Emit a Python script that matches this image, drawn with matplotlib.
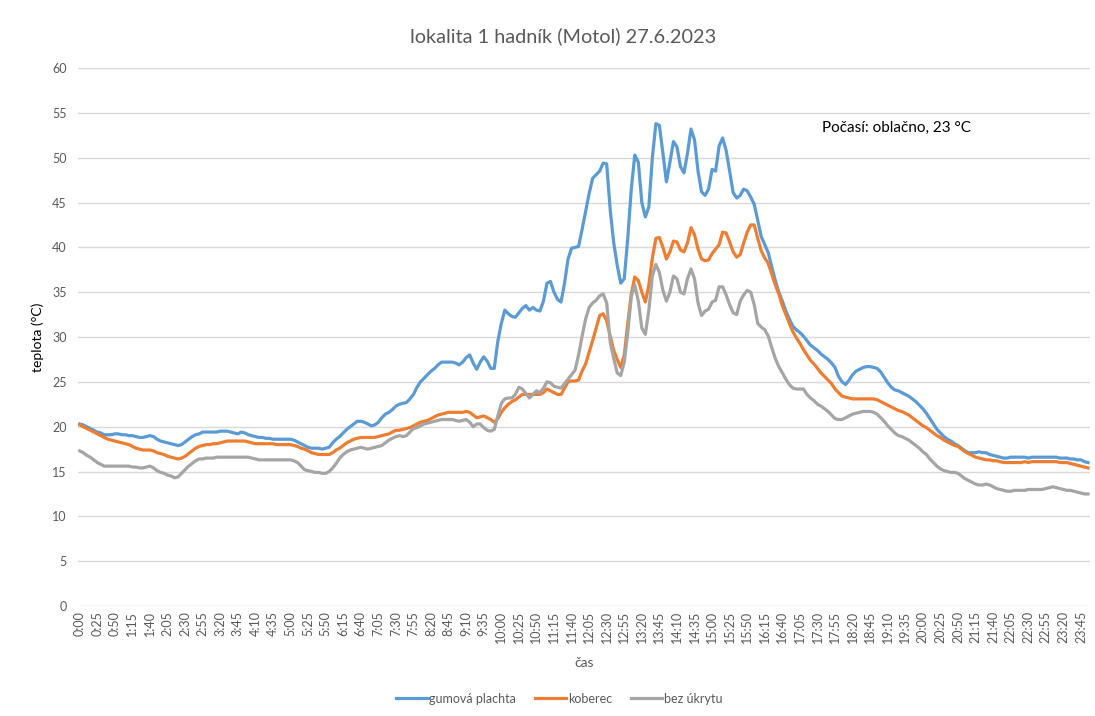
import matplotlib
matplotlib.use('Agg')
from matplotlib import pyplot as plt

plt.rcParams['font.family'] = ['Lato', 'DejaVu Sans']

# 5-minute readings, 0:00 .. 23:55
gumova = [
    20.3, 20.2, 20.0, 19.8, 19.6, 19.4, 19.3, 19.1, 19.1, 19.1, 19.2, 19.2,
    19.1, 19.1, 19.0, 19.0, 18.9, 18.8, 18.8, 18.9, 19.0, 18.9, 18.6, 18.4,
    18.3, 18.2, 18.1, 18.0, 17.9, 18.0, 18.3, 18.6, 18.9, 19.1, 19.2, 19.4,
    19.4, 19.4, 19.4, 19.4, 19.5, 19.5, 19.5, 19.4, 19.3, 19.2, 19.4, 19.3,
    19.1, 19.0, 18.9, 18.8, 18.8, 18.7, 18.7, 18.6, 18.6, 18.6, 18.6, 18.6,
    18.6, 18.5, 18.3, 18.1, 17.9, 17.7, 17.6, 17.6, 17.6, 17.5, 17.6, 17.7,
    18.2, 18.6, 18.9, 19.3, 19.7, 20.0, 20.3, 20.6, 20.6, 20.5, 20.3, 20.1,
    20.2, 20.5, 21.0, 21.4, 21.6, 21.9, 22.3, 22.5, 22.6, 22.7, 23.1, 23.6,
    24.4, 25.0, 25.4, 25.8, 26.2, 26.5, 26.9, 27.2, 27.2, 27.2, 27.2, 27.1,
    26.9, 27.2, 27.7, 28.0, 27.1, 26.4, 27.2, 27.8, 27.3, 26.5, 26.5, 29.5,
    31.5, 33.0, 32.6, 32.3, 32.2, 32.7, 33.2, 33.5, 33.0, 33.3, 33.0, 32.9,
    34.0, 36.0, 36.2, 35.0, 34.2, 33.9, 36.0, 38.7, 39.9, 40.0, 40.1, 42.0,
    44.0, 46.0, 47.7, 48.1, 48.5, 49.4, 49.3, 44.2, 40.5, 38.0, 36.0, 36.5,
    41.0, 46.5, 50.3, 49.5, 45.0, 43.4, 44.5, 50.0, 53.8, 53.6, 50.5, 47.3,
    49.5, 51.8, 51.2, 49.0, 48.3, 50.5, 53.2, 52.0, 48.5, 46.2, 45.8, 46.5,
    48.7, 48.5, 51.3, 52.2, 50.8, 48.5, 46.1, 45.5, 45.8, 46.5, 46.3, 45.6,
    44.8, 43.0, 41.2, 40.3, 39.4, 37.8, 36.3, 35.0, 34.0, 32.9, 32.0, 31.2,
    30.8, 30.5, 30.1, 29.6, 29.1, 28.8, 28.5, 28.1, 27.8, 27.5, 27.1, 26.6,
    25.6, 25.0, 24.7, 25.2, 25.8, 26.2, 26.4, 26.6, 26.7, 26.7, 26.6, 26.5,
    26.1, 25.5, 24.9, 24.4, 24.1, 24.0, 23.8, 23.6, 23.4, 23.1, 22.8, 22.4,
    22.0, 21.5, 20.9, 20.3, 19.7, 19.3, 18.9, 18.6, 18.4, 18.1, 17.9, 17.6,
    17.3, 17.1, 17.1, 17.1, 17.2, 17.1, 17.1, 16.9, 16.8, 16.7, 16.6, 16.5,
    16.5, 16.6, 16.6, 16.6, 16.6, 16.6, 16.5, 16.6, 16.6, 16.6, 16.6, 16.6,
    16.6, 16.6, 16.6, 16.5, 16.5, 16.5, 16.4, 16.4, 16.3, 16.3, 16.1, 16.0,
]

koberec = [
    20.2, 20.0, 19.8, 19.6, 19.4, 19.2, 19.0, 18.8, 18.6, 18.5, 18.4, 18.3,
    18.2, 18.1, 18.0, 17.8, 17.6, 17.5, 17.4, 17.4, 17.4, 17.3, 17.1, 17.0,
    16.9, 16.7, 16.6, 16.5, 16.4, 16.5, 16.7, 17.0, 17.3, 17.6, 17.8, 17.9,
    18.0, 18.0, 18.1, 18.1, 18.2, 18.3, 18.4, 18.4, 18.4, 18.4, 18.4, 18.4,
    18.3, 18.2, 18.1, 18.1, 18.1, 18.1, 18.1, 18.1, 18.0, 18.0, 18.0, 18.0,
    18.0, 17.9, 17.8, 17.6, 17.5, 17.3, 17.1, 17.0, 16.9, 16.9, 16.9, 16.9,
    17.1, 17.4, 17.6, 17.9, 18.2, 18.4, 18.6, 18.7, 18.8, 18.8, 18.8, 18.8,
    18.8, 18.9, 19.0, 19.1, 19.2, 19.4, 19.6, 19.6, 19.7, 19.8, 19.9, 20.1,
    20.3, 20.5, 20.6, 20.7, 20.9, 21.1, 21.3, 21.4, 21.5, 21.6, 21.6, 21.6,
    21.6, 21.6, 21.7, 21.6, 21.3, 21.0, 21.1, 21.2, 21.0, 20.8, 20.5, 20.9,
    21.6, 22.1, 22.5, 22.8, 23.0, 23.3, 23.6, 23.6, 23.6, 23.6, 23.6, 23.6,
    23.8, 24.2, 24.0, 23.8, 23.6, 23.6, 24.3, 25.0, 25.1, 25.1, 25.2, 26.2,
    27.0, 28.3, 29.6, 31.0, 32.4, 32.6, 31.8, 30.1, 28.5, 27.5, 26.6, 28.0,
    31.5, 34.8, 36.7, 36.3, 35.0, 33.9, 35.8, 38.8, 41.0, 41.1, 40.0, 38.7,
    39.5, 40.7, 40.6, 39.7, 39.5, 40.5, 42.2, 41.4, 39.8, 38.7, 38.5, 38.6,
    39.3, 39.8, 40.3, 41.7, 41.6, 40.6, 39.5, 38.9, 39.2, 40.5, 41.7, 42.5,
    42.5, 41.0, 39.6, 38.8, 38.2, 37.0, 35.8, 34.8, 33.5, 32.5, 31.5, 30.6,
    29.9, 29.3, 28.6, 28.0, 27.4, 27.0, 26.5, 26.0, 25.6, 25.2, 24.8, 24.2,
    23.8, 23.4, 23.3, 23.2, 23.1, 23.1, 23.1, 23.1, 23.1, 23.1, 23.1, 23.0,
    22.8, 22.6, 22.4, 22.2, 22.0, 21.8, 21.7, 21.5, 21.3, 21.0, 20.7, 20.4,
    20.1, 19.9, 19.6, 19.3, 19.0, 18.8, 18.5, 18.3, 18.1, 17.9, 17.8, 17.5,
    17.2, 17.0, 16.8, 16.6, 16.5, 16.4, 16.3, 16.3, 16.2, 16.2, 16.1, 16.0,
    16.0, 16.0, 16.0, 16.0, 16.0, 16.1, 16.0, 16.1, 16.1, 16.1, 16.1, 16.1,
    16.1, 16.1, 16.1, 16.0, 16.0, 16.0, 15.9, 15.8, 15.7, 15.6, 15.5, 15.4,
]

bez_ukrytu = [
    17.3, 17.1, 16.8, 16.6, 16.3, 16.0, 15.8, 15.6, 15.6, 15.6, 15.6, 15.6,
    15.6, 15.6, 15.6, 15.5, 15.5, 15.4, 15.4, 15.5, 15.6, 15.4, 15.1, 14.9,
    14.8, 14.6, 14.5, 14.3, 14.4, 14.8, 15.2, 15.6, 15.9, 16.2, 16.4, 16.4,
    16.5, 16.5, 16.5, 16.6, 16.6, 16.6, 16.6, 16.6, 16.6, 16.6, 16.6, 16.6,
    16.6, 16.5, 16.4, 16.3, 16.3, 16.3, 16.3, 16.3, 16.3, 16.3, 16.3, 16.3,
    16.3, 16.2, 16.0, 15.6, 15.2, 15.1, 15.0, 14.9, 14.9, 14.8, 14.8, 15.0,
    15.4, 15.9, 16.5, 16.9, 17.2, 17.4, 17.5, 17.6, 17.7, 17.6, 17.5, 17.6,
    17.7, 17.8, 17.9, 18.2, 18.5, 18.7, 18.9, 19.0, 18.9, 19.0, 19.4, 19.8,
    19.9, 20.1, 20.3, 20.4, 20.5, 20.6, 20.7, 20.8, 20.8, 20.8, 20.8, 20.7,
    20.6, 20.7, 20.8, 20.5, 20.0, 20.3, 20.3, 19.9, 19.6, 19.5, 19.7, 21.2,
    22.6, 23.1, 23.2, 23.2, 23.6, 24.4, 24.2, 23.7, 23.2, 23.6, 24.0, 23.8,
    24.3, 25.0, 24.9, 24.5, 24.4, 24.3, 24.8, 25.3, 25.8, 26.3, 28.0, 30.1,
    32.0, 33.3, 33.8, 34.1, 34.6, 34.8, 33.8, 29.4, 27.6, 26.0, 25.7, 27.2,
    30.5, 34.5, 35.8, 34.0, 31.0, 30.3, 33.0, 36.8, 38.1, 37.2, 35.2, 34.0,
    35.0, 36.8, 36.5, 35.0, 34.8, 36.5, 37.6, 36.5, 33.8, 32.4, 32.9, 33.1,
    33.9, 34.1, 35.6, 35.6, 34.7, 33.6, 32.7, 32.5, 34.0, 34.7, 35.2, 35.0,
    33.6, 31.5, 31.1, 30.8, 30.1, 28.8, 27.6, 26.7, 26.0, 25.3, 24.7, 24.3,
    24.2, 24.2, 24.2, 23.6, 23.2, 22.9, 22.5, 22.3, 22.0, 21.7, 21.3, 20.9,
    20.8, 20.8, 21.0, 21.2, 21.4, 21.5, 21.6, 21.7, 21.7, 21.7, 21.6, 21.4,
    21.0, 20.6, 20.1, 19.7, 19.3, 19.0, 18.9, 18.7, 18.5, 18.2, 17.9, 17.6,
    17.2, 16.9, 16.4, 16.0, 15.6, 15.3, 15.1, 15.0, 14.9, 14.9, 14.8, 14.5,
    14.2, 14.0, 13.8, 13.6, 13.5, 13.5, 13.6, 13.5, 13.3, 13.1, 13.0, 12.9,
    12.8, 12.8, 12.9, 12.9, 12.9, 12.9, 13.0, 13.0, 13.0, 13.0, 13.0, 13.1,
    13.2, 13.3, 13.2, 13.1, 13.0, 12.9, 12.9, 12.8, 12.7, 12.6, 12.5, 12.5,
]

casy = ['%d:%02d' % divmod(m, 60) for m in range(0, 24 * 60, 5)]
series = ['gumová plachta', 'koberec', 'bez úkrytu']
colors = ['#5B9BD5', '#ED7D31', '#A5A5A5']

txt = '#595959'
fig = plt.figure(figsize=(10.95, 7.16), dpi=100)
ax = fig.add_axes([0.0712, 0.1536, 0.924, 0.7514])

x = range(len(casy))
for vals, name, c in zip([gumova, koberec, bez_ukrytu], series, colors):
    ax.plot(x, vals, color=c, lw=2.3, label=name, solid_joinstyle='round')

ax.set_xlim(-0.5, len(casy) - 0.5)
ax.set_ylim(0, 60)
ax.set_yticks(range(0, 61, 5))
ax.set_xticks(list(x)[::5])
ax.set_xticklabels(casy[::5], rotation=90)
ax.tick_params(axis='both', length=0, labelsize=9, colors=txt)
ax.tick_params(axis='y', pad=8)
ax.grid(axis='y', color='#D9D9D9', lw=1)
ax.set_axisbelow(True)
for s in ax.spines.values():
    s.set_visible(False)

fig.suptitle('lokalita 1 hadník (Motol) 27.6.2023', x=0.514, y=0.962,
             fontsize=14.3, color=txt)
ax.set_ylabel('teplota (°C)', fontsize=10, color='black', labelpad=6)
ax.set_xlabel('čas', fontsize=10, color=txt, labelpad=10)
ax.text(0.735, 0.888, 'Počasí: oblačno, 23 °C', transform=ax.transAxes,
        fontsize=11, color='black', va='center')

fig.legend(loc='lower center', ncol=3, frameon=False, fontsize=9,
           bbox_to_anchor=(0.511, 0.0), handlelength=2.5, columnspacing=1.5,
           labelcolor=txt, handletextpad=0.15)

fig.savefig('out.png', dpi=100)
